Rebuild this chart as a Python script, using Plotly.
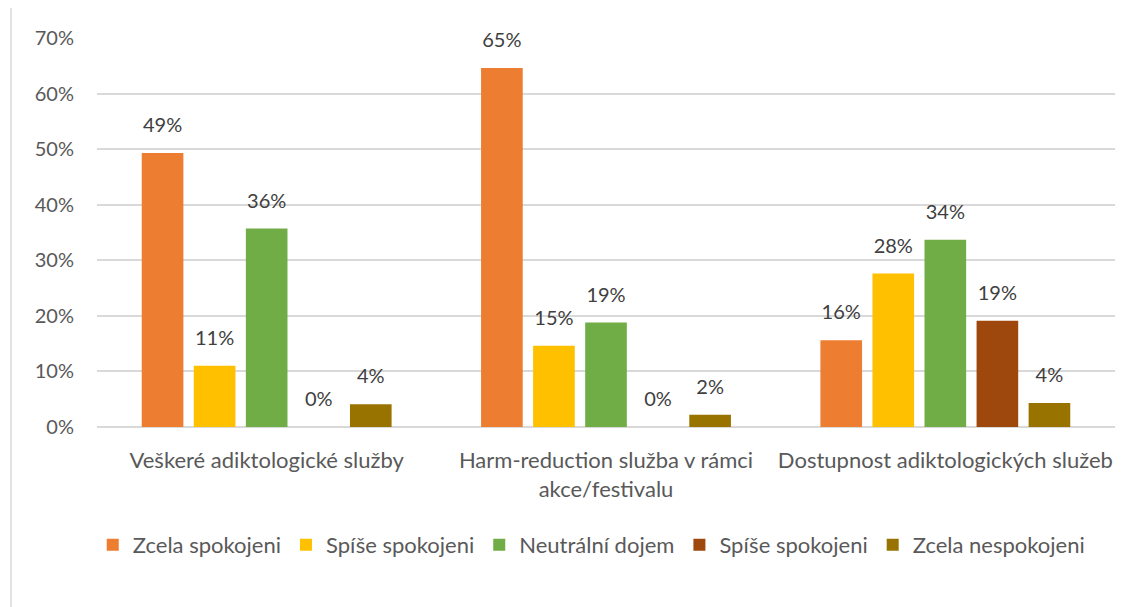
import plotly.graph_objects as go

categories = ["Veškeré adiktologické služby",
              "Harm-reduction služba v rámci<br>akce/festivalu",
              "Dostupnost adiktologických služeb"]
series_names = ["Zcela spokojeni", "Spíše spokojeni", "Neutrální dojem",
                "Spíše spokojeni", "Zcela nespokojeni"]
zcela_spokojeni = [49.3, 64.6, 15.6]
spise_spokojeni = [11.0, 14.6, 27.6]
neutralni = [35.7, 18.8, 33.7]
spise_nespokojeni = [0.0, 0.0, 19.1]
zcela_nespokojeni = [4.1, 2.2, 4.3]
colors = ["#ED7D31", "#FFC000", "#70AD47", "#9E480E", "#997300"]
tick_vals = [0, 10, 20, 30, 40, 50, 60, 70]
tick_text = ["0%", "10%", "20%", "30%", "40%", "50%", "60%", "70%"]

values = [zcela_spokojeni, spise_spokojeni, neutralni, spise_nespokojeni, zcela_nespokojeni]

FONT = "Lato"
BARGAP = 0.233
GROUPGAP = 0.2
n = len(values)
slot = (1 - BARGAP) / n
xpos = list(range(len(categories)))

fig = go.Figure()
for k, (name, vals, col) in enumerate(zip(series_names, values, colors)):
    fig.add_trace(go.Bar(
        x=xpos, y=vals, name=name, marker_color=col, marker_line_width=0,
        hoverinfo="skip",
    ))
for k, vals in enumerate(values):
    off = (k - (n - 1) / 2) * slot
    fig.add_trace(go.Scatter(
        x=[i + off for i in xpos], y=vals, mode="markers+text",
        marker=dict(size=24, opacity=0), showlegend=False,
        text=[f"{round(v):.0f}%" for v in vals], textposition="top center",
        textfont=dict(family=FONT, size=20, color="#404040"),
        cliponaxis=False, hoverinfo="skip",
    ))

fig.update_layout(
    width=1140, height=607,
    margin=dict(l=89, r=33, t=30, b=188),
    plot_bgcolor="white", paper_bgcolor="white",
    barmode="group", bargap=BARGAP, bargroupgap=GROUPGAP,
    font=dict(family=FONT, size=20, color="#595959"),
    showlegend=True,
    legend=dict(orientation="h", x=0.486, xanchor="center", y=-0.303, yanchor="middle",
                font=dict(family=FONT, size=22, color="#595959"),
                traceorder="normal"),
    yaxis=dict(range=[0, 70], tickvals=tick_vals, ticktext=tick_text,
               showgrid=True, gridcolor="#D9D9D9", gridwidth=1.5,
               zeroline=True, zerolinecolor="#D9D9D9", zerolinewidth=1.5,
               ticks="", ticklabelstandoff=22,
               tickfont=dict(family=FONT, size=20, color="#595959")),
    xaxis=dict(range=[-0.5, 2.5], tickvals=xpos, ticktext=categories,
               showline=False, ticks="", showgrid=False, zeroline=False,
               ticklabelstandoff=18,
               tickfont=dict(family=FONT, size=22, color="#595959")),
    shapes=[dict(type="line", xref="paper", yref="paper",
                 x0=-0.0845, x1=-0.0845, y0=-0.5, y1=1.1,
                 line=dict(color="#D9D9D9", width=1.5))],
)

fig.write_html("out.html")
